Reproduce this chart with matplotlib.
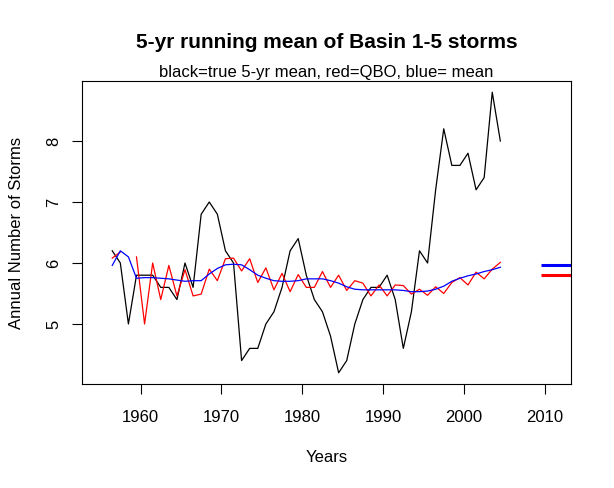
import numpy as np
import matplotlib
matplotlib.use("Agg")
import matplotlib.pyplot as plt

plt.rcParams['font.family'] = ['Liberation Sans', 'DejaVu Sans']

# years (centre of each 5-yr window)
years = 1956.5 + np.arange(49)

# black = true 5-yr running mean
true_mean = [6.2, 6.0, 5.0, 5.8, 5.8, 5.8, 5.6, 5.6, 5.4, 6.0,
             5.6, 6.8, 7.0, 6.8, 6.2, 6.0, 4.4, 4.6, 4.6, 5.0,
             5.2, 5.6, 6.2, 6.4, 5.8, 5.4, 5.2, 4.8, 4.2, 4.4,
             5.0, 5.4, 5.6, 5.6, 5.8, 5.4, 4.6, 5.2, 6.2, 6.0,
             7.2, 8.2, 7.6, 7.6, 7.8, 7.2, 7.4, 8.8, 8.0]

# red = QBO model
qbo = [6.08, 6.18, np.nan, 6.1, 5.0, 6.0, 5.4, 5.96, 5.46, 5.89,
       5.46, 5.49, 5.9, 5.71, 6.07, 6.08, 5.87, 6.07, 5.68, 5.92,
       5.56, 5.83, 5.53, 5.81, 5.6, 5.6, 5.86, 5.6, 5.8, 5.55,
       5.71, 5.67, 5.46, 5.64, 5.46, 5.64, 5.63, 5.49, 5.57, 5.47,
       5.61, 5.5, 5.68, 5.76, 5.64, 5.85, 5.74, 5.9, 6.01]

# blue = mean model
mean_fit = [5.96, 6.2, 6.1, 5.75, 5.76, 5.76, 5.75, 5.74, 5.72, 5.70,
            5.71, 5.71, 5.82, 5.91, 5.97, 5.98, 5.97, 5.89, 5.80, 5.75,
            5.71, 5.70, 5.70, 5.71, 5.74, 5.74, 5.74, 5.71, 5.67, 5.61,
            5.57, 5.56, 5.56, 5.56, 5.56, 5.56, 5.55, 5.53, 5.53, 5.54,
            5.57, 5.62, 5.70, 5.75, 5.79, 5.82, 5.86, 5.89, 5.93]

# forecast levels drawn at the right
blue_level = 5.97
red_level = 5.81
fc_years = [2009.5, 2015]

fig = plt.figure(figsize=(6.14, 4.88), dpi=100)
ax = fig.add_axes([82 / 614, 1 - 384 / 488, (571 - 82) / 614, (384 - 81) / 488])

ax.plot(years, true_mean, color='black', lw=0.9)
ax.plot(years, qbo, color='red', lw=0.9)
ax.plot(years, mean_fit, color='blue', lw=0.9)
ax.plot(fc_years, [blue_level, blue_level], color='blue', lw=2.2, solid_capstyle='butt')
ax.plot(fc_years, [red_level, red_level], color='red', lw=2.2, solid_capstyle='butt')

ax.set_xlim(1952.76, 2013.24)
ax.set_ylim(4.016, 8.984)
ax.set_xticks([1960, 1970, 1980, 1990, 2000, 2010])
ax.set_yticks([5, 6, 7, 8])
ax.tick_params(direction='out', length=7, width=0.8, labelsize=12)
ax.tick_params(axis='x', pad=12)
ax.tick_params(axis='y', pad=8)
for lab in ax.get_yticklabels():
    lab.set_rotation(90)
    lab.set_va('center')
for sp in ax.spines.values():
    sp.set_linewidth(0.8)

ax.set_xlabel('Years', fontsize=12, labelpad=18)
ax.set_ylabel('Annual Number of Storms', fontsize=12, labelpad=16)

fig.text(326.5 / 614, 1 - 42 / 488, '5-yr running mean of Basin 1-5 storms',
         ha='center', va='center', fontsize=15, fontweight='bold')
fig.text(326.5 / 614, 1 - 72 / 488, 'black=true 5-yr mean, red=QBO, blue= mean',
         ha='center', va='center', fontsize=12)

fig.savefig('out.png', dpi=100)
